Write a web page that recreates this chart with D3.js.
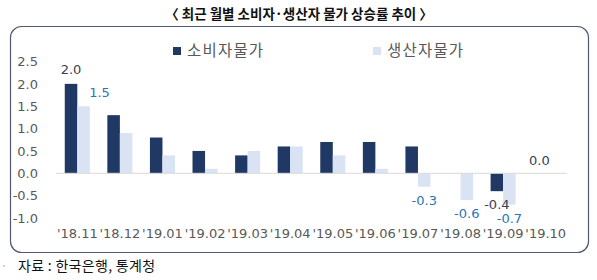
<!DOCTYPE html>
<html><head><meta charset="utf-8">
<script src="https://cdn.jsdelivr.net/npm/d3@7"></script>
<style>
body{margin:0;background:#fff;}
svg{display:block;}
</style></head>
<body>
<svg id="chart" width="597" height="280"></svg>
<script>
const categories = ["'18.11","'18.12","'19.01","'19.02","'19.03","'19.04","'19.05","'19.06","'19.07","'19.08","'19.09","'19.10"];
const cpi = [2.0, 1.3, 0.8, 0.5, 0.4, 0.6, 0.7, 0.7, 0.6, 0.0, -0.4, 0.0];
const ppi = [1.5, 0.9, 0.4, 0.1, 0.5, 0.6, 0.4, 0.1, -0.3, -0.6, -0.7, null];
const seriesNames = ["소비자물가", "생산자물가"];
const yTicks = [-1.0, -0.5, 0.0, 0.5, 1.0, 1.5, 2.0, 2.5];
const labelledCpi = ["'18.11", "'19.09", "'19.10"];
const labelledPpi = ["'18.11", "'19.07", "'19.08", "'19.09"];
const title = "〈 최근 월별 소비자·생산자 물가 상승률 추이 〉";
const source = "자료 : 한국은행, 통계청";

const colors = ["#1f3864", "#dae3f3"];
const labelColors = ["#3a3f4f", "#2e75b6"];
const svg = d3.select("#chart");
const numFont = "'DejaVu Sans', Verdana, sans-serif";
const krFont = "'Noto Sans CJK KR', sans-serif";
const fmt = v => v.toFixed(1);

// title
svg.append("text").attr("x", 299).attr("y", 19).attr("text-anchor", "middle")
  .attr("font-family", krFont).attr("font-weight", "bold").attr("font-size", 13.5)
  .attr("fill", "#111").text(title);

// frame
svg.append("rect").attr("x", 10.5).attr("y", 26.5).attr("width", 578).attr("height", 226)
  .attr("rx", 11).attr("fill", "none").attr("stroke", "#505a6e").attr("stroke-width", 1.2);

const x = d3.scaleBand().domain(categories).range([56, 567]).paddingInner(0).paddingOuter(0);
const x1 = d3.scaleBand().domain([0, 1]).range([0, x.bandwidth()]).paddingInner(0).paddingOuter(0.7);
const y = d3.scaleLinear().domain([-1.0, 2.5]).range([218, 61.5]);

// y axis labels
const yAxis = d3.axisLeft(y).tickValues(yTicks).tickFormat(fmt).tickSize(0).tickPadding(0);
const gy = svg.append("g").attr("transform", "translate(38,0)").call(yAxis);
gy.select(".domain").remove();
gy.selectAll("text").attr("font-family", numFont).attr("font-size", 13).attr("fill", "#595959");

// bars
const data = [cpi, ppi];
data.forEach((vals, si) => {
  svg.append("g").selectAll("rect").data(categories.map((c, i) => ({c, v: vals[i]})).filter(d => d.v !== null))
    .join("rect")
    .attr("x", d => x(d.c) + x1(si))
    .attr("width", x1.bandwidth())
    .attr("y", d => y(Math.max(0, d.v)))
    .attr("height", d => Math.abs(y(d.v) - y(0)))
    .attr("fill", colors[si]);
});

// zero line
svg.append("line").attr("x1", x.range()[0]).attr("x2", x.range()[1])
  .attr("y1", y(0)).attr("y2", y(0)).attr("stroke", "#d9d9d9").attr("stroke-width", 1);

// x axis labels
const xAxis = d3.axisBottom(x).tickSize(0).tickPadding(0);
const gx = svg.append("g").attr("transform", "translate(0,229)").call(xAxis);
gx.select(".domain").remove();
gx.selectAll("text").attr("font-family", numFont).attr("font-size", 13).attr("fill", "#595959");

// data labels
function addLabels(list, vals, si) {
  list.forEach(c => {
    const i = categories.indexOf(c);
    const v = vals[i];
    let cx = x(c) + x1(si) + x1.bandwidth() / 2;
    let cy;
    if (v > 0) cy = y(v) - 10;
    else cy = y(v) + 18;
    if (si === 1 && v > 0) { cx += 16; cy += 1; }
    if (v === 0) cy = y(0) - 8;
    svg.append("text").attr("x", cx).attr("y", cy).attr("text-anchor", "middle")
      .attr("font-family", numFont).attr("font-size", 13).attr("fill", labelColors[si])
      .text(fmt(v));
  });
}
addLabels(labelledCpi, cpi, 0);
addLabels(labelledPpi, ppi, 1);

// legend
const legendX = [173, 373];
seriesNames.forEach((n, i) => {
  const lg = svg.append("g").attr("transform", `translate(${legendX[i]},47)`);
  lg.append("rect").attr("width", 8).attr("height", 8).attr("fill", colors[i]);
  lg.append("text").attr("x", 14).attr("y", 9).attr("font-family", krFont)
    .attr("font-size", 15.5).attr("letter-spacing", 1.2).attr("fill", "#595959").text(n);
});

// source
svg.append("circle").attr("cx", 4).attr("cy", 266).attr("r", 0.8).attr("fill", "#999");
svg.append("text").attr("x", 18).attr("y", 271).attr("font-family", krFont)
  .attr("font-size", 14).attr("letter-spacing", 0.3).attr("fill", "#111").text(source);
</script>
</body></html>
